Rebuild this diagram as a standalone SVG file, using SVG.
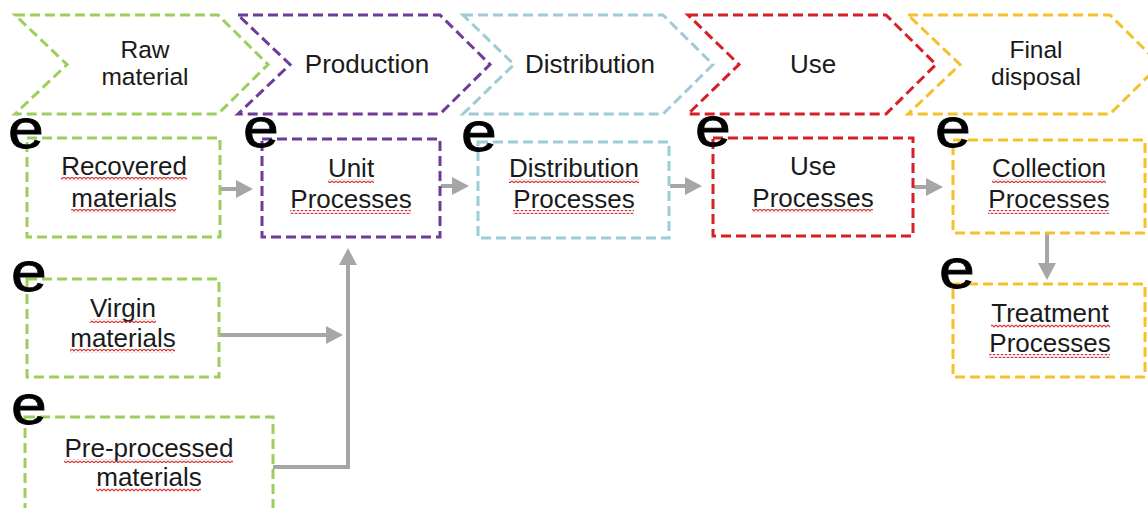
<svg xmlns="http://www.w3.org/2000/svg" width="1148" height="508" viewBox="0 0 1148 508">
<defs>
<style>
.chev{fill:#fff;stroke-width:3;stroke-dasharray:10 5}
.box{fill:#fff;stroke-width:3;stroke-dasharray:10 5}
.g{stroke:#9bcf5c}.p{stroke:#703a98}.b{stroke:#9ecbd8}.r{stroke:#d81e26}.y{stroke:#f3c12c}
.t{font-family:"Liberation Sans",Arial,sans-serif;font-size:26px;fill:#1a1a1a;text-anchor:middle}
.ct{font-family:"Liberation Sans",Arial,sans-serif;font-size:24.5px;fill:#1a1a1a;text-anchor:middle}
.e{font-family:"Liberation Sans",Arial,sans-serif;font-size:56px;fill:#000;stroke:#000;stroke-width:0.8}
.sq{fill:url(#sq)}
.conn{fill:none;stroke:#a6a6a6;stroke-width:4;marker-end:url(#ah)}
</style>
<pattern id="sq" width="4" height="4" patternUnits="userSpaceOnUse"><path d="M0,1 L2,3 L4,1" fill="none" stroke="#cf3b3b" stroke-width="1.2"/></pattern>
<marker id="ah" viewBox="0 0 17 18" refX="9" refY="9" markerWidth="17" markerHeight="18" markerUnits="userSpaceOnUse" orient="auto"><path d="M0,0 L17,9 L0,18 z" fill="#a6a6a6"/></marker>
</defs>
<rect width="1148" height="508" fill="#fff"/>

<g id="stage-raw">
<polygon class="chev g" points="15,15 218,15 268,64.5 218,114 15,114 67,64.5"/>
<text class="ct" x="145" y="58">Raw</text><text class="ct" x="145" y="85">material</text>
</g>
<g id="stage-production">
<polygon class="chev p" points="238,15 440,15 490,64.5 440,114 238,114 290,64.5"/>
<text class="t" x="367" y="73">Production</text>
</g>
<g id="stage-distribution">
<polygon class="chev b" points="463,15 663,15 713,64.5 663,114 463,114 514,64.5"/>
<text class="t" x="590" y="73">Distribution</text>
</g>
<g id="stage-use">
<polygon class="chev r" points="688,15 886,15 936,64.5 886,114 688,114 739,64.5"/>
<text class="t" x="813" y="73">Use</text>
</g>
<g id="stage-final">
<polygon class="chev y" points="908,15 1110,15 1160,64.5 1110,114 908,114 960,64.5"/>
<text class="ct" x="1036" y="58">Final</text><text class="ct" x="1036" y="85">disposal</text>
</g>

<g id="connectors">
<path class="conn" d="M220,189 H245"/>
<path class="conn" d="M441,186 H461"/>
<path class="conn" d="M670,186 H694"/>
<path class="conn" d="M914,187 H935"/>
<path class="conn" d="M1047,234 V272"/>
<path class="conn" d="M219,335 H335"/>
<path class="conn" d="M273,467 H348 V256"/>
</g>

<g id="recovered">
<rect class="box g" x="27" y="138" width="193" height="99"/>
<text class="t" x="124" y="175">Recovered</text><text class="t" x="124" y="207">materials</text>
<rect class="sq" x="61" y="177" width="126" height="4"/><rect class="sq" x="71" y="209" width="105" height="4"/>
<text class="e" transform="translate(8,148) scale(1.15,1)">e</text>
</g>
<g id="unit">
<rect class="box p" x="262" y="139" width="178" height="98"/>
<text class="t" x="351" y="177">Unit</text><text class="t" x="351" y="208">Processes</text>
<rect class="sq" x="328" y="179" width="46" height="4"/><rect class="sq" x="290" y="210" width="121" height="4"/>
<text class="e" transform="translate(243,147) scale(1.15,1)">e</text>
</g>
<g id="distribution">
<rect class="box b" x="478" y="142" width="191" height="96"/>
<text class="t" x="574" y="177">Distribution</text><text class="t" x="574" y="208">Processes</text>
<rect class="sq" x="509" y="179" width="130" height="4"/><rect class="sq" x="513" y="210" width="121" height="4"/>
<text class="e" transform="translate(461,151) scale(1.15,1)">e</text>
</g>
<g id="use">
<rect class="box r" x="713" y="138" width="200" height="98"/>
<text class="t" x="813" y="175">Use</text><text class="t" x="813" y="207">Processes</text>
<rect class="sq" x="752" y="209" width="121" height="4"/>
<text class="e" transform="translate(695,146) scale(1.15,1)">e</text>
</g>
<g id="collection">
<rect class="box y" x="953" y="140" width="192" height="93"/>
<text class="t" x="1049" y="177">Collection</text><text class="t" x="1049" y="208">Processes</text>
<rect class="sq" x="992" y="179" width="114" height="4"/><rect class="sq" x="988" y="210" width="121" height="4"/>
<text class="e" transform="translate(935,147) scale(1.15,1)">e</text>
</g>
<g id="treatment">
<rect class="box y" x="953" y="284" width="192" height="93"/>
<text class="t" x="1050" y="322">Treatment</text><text class="t" x="1050" y="352">Processes</text>
<rect class="sq" x="991" y="324" width="119" height="4"/><rect class="sq" x="989" y="354" width="121" height="4"/>
<text class="e" transform="translate(939,288) scale(1.15,1)">e</text>
</g>
<g id="virgin">
<rect class="box g" x="27" y="279" width="192" height="98"/>
<text class="t" x="123" y="317">Virgin</text><text class="t" x="123" y="347">materials</text>
<rect class="sq" x="90" y="319" width="66" height="4"/><rect class="sq" x="70" y="349" width="105" height="4"/>
<text class="e" transform="translate(11,291) scale(1.15,1)">e</text>
</g>
<g id="preprocessed">
<rect class="box g" x="25" y="417" width="248" height="100"/>
<text class="t" x="149" y="457">Pre-processed</text><text class="t" x="149" y="486">materials</text>
<rect class="sq" x="64" y="459" width="169" height="4"/><rect class="sq" x="96" y="488" width="105" height="4"/>
<text class="e" transform="translate(11,424) scale(1.15,1)">e</text>
</g>
</svg>
